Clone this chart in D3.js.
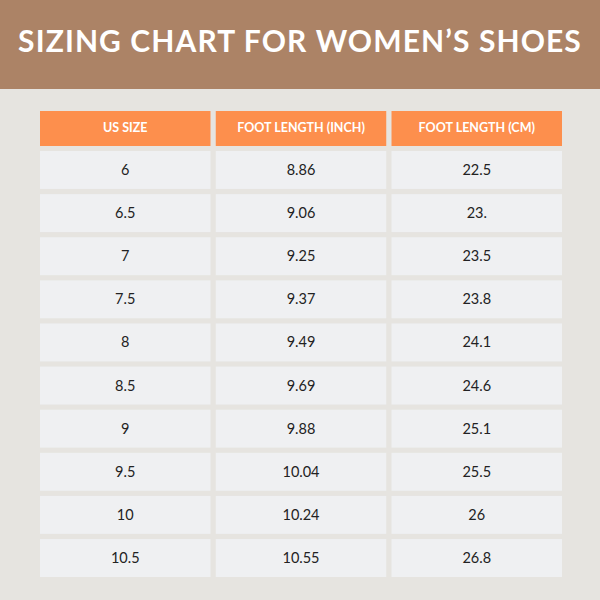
<!DOCTYPE html><html><head><meta charset="utf-8"><script src="https://cdn.jsdelivr.net/npm/d3@7"></script>
<style>body{margin:0}svg{display:block}</style></head><body><script>
const title = "SIZING CHART FOR WOMEN’S SHOES";
const columns = ["US SIZE","FOOT LENGTH (INCH)","FOOT LENGTH (CM)"];
const usSize = ["6","6.5","7","7.5","8","8.5","9","9.5","10","10.5"];
const inches = ["8.86","9.06","9.25","9.37","9.49","9.69","9.88","10.04","10.24","10.55"];
const cms = ["22.5","23.","23.5","23.8","24.1","24.6","25.1","25.5","26","26.8"];
const rows = usSize.map((s,i)=>[s,inches[i],cms[i]]);

const svg = d3.select("body").append("svg").attr("width",600).attr("height",600);
svg.append("rect").attr("width",600).attr("height",600).attr("fill","#e6e4e0");
svg.append("rect").attr("width",600).attr("height",89).attr("fill","#ac8366");
svg.append("text").attr("x",300).attr("y",52).attr("text-anchor","middle")
  .attr("font-family","Lato, sans-serif").attr("font-weight",700).attr("font-size",30)
  .attr("letter-spacing",1.1).attr("fill","#ffffff").text(title);

const x = d3.scaleBand().domain(d3.range(3)).range([40,562]).paddingInner(0.03);
const y = d3.scaleBand().domain(d3.range(10)).range([151,577]).paddingInner(0.12);

columns.forEach((c,j)=>{
  svg.append("rect").attr("x",x(j)).attr("y",111).attr("width",x.bandwidth()).attr("height",35).attr("fill","#fd8f4d");
  svg.append("text").attr("x",x(j)+x.bandwidth()/2).attr("y",132).attr("text-anchor","middle")
    .attr("font-family","Lato, sans-serif").attr("font-weight",700).attr("font-size",12.5).attr("fill","#ffffff").text(c);
});
rows.forEach((r,i)=>{
  r.forEach((v,j)=>{
    svg.append("rect").attr("x",x(j)).attr("y",y(i)).attr("width",x.bandwidth()).attr("height",y.bandwidth()).attr("fill","#eff0f2");
    svg.append("text").attr("x",x(j)+x.bandwidth()/2).attr("y",y(i)+y.bandwidth()/2+5).attr("text-anchor","middle")
      .attr("font-family","Lato, sans-serif").attr("font-size",14.5).attr("fill","#222").text(v);
  });
});
</script></body></html>
